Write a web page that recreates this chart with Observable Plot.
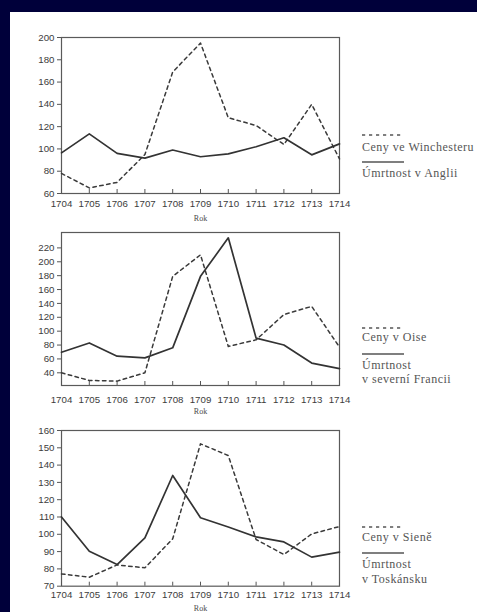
<!DOCTYPE html>
<html><head><meta charset="utf-8">
<script src="https://cdn.jsdelivr.net/npm/d3@7"></script>
<script src="https://cdn.jsdelivr.net/npm/@observablehq/plot@0.6"></script>
<style>
html,body{margin:0;padding:0;width:477px;height:612px;overflow:hidden;background:#00003a;}
#page{position:absolute;left:10px;top:12px;width:467px;height:600px;background:#fff;}
.chart{position:absolute;left:0;}
.chart svg{overflow:visible;}
.lg{position:absolute;left:362px;font-family:"Liberation Serif","DejaVu Serif",serif;font-size:12px;letter-spacing:0.5px;color:#555;line-height:14px;white-space:nowrap;}
.sample{position:absolute;left:362px;}
</style></head><body>
<div id="page"></div>
<div id="root"></div>
<script>
// ---- data ----
const years = [1704, 1705, 1706, 1707, 1708, 1709, 1710, 1711, 1712, 1713, 1714];

// Chart 1: England
const winchesterPrices = [78, 65, 70, 95, 169, 195, 128, 121, 104, 140, 91];
const englandMortality = [96.5, 113.5, 96, 91.7, 99, 93, 95.6, 102, 110, 94.7, 104.5];
const yTicks1 = [60, 80, 100, 120, 140, 160, 180, 200];

// Chart 2: Northern France
const oisePrices = [40, 29, 28, 40, 179, 210, 78, 87.5, 124, 135.7, 77];
const franceMortality = [69.6, 83, 64, 61.5, 76, 179, 234.5, 90, 80, 54, 46];
const yTicks2 = [40, 60, 80, 100, 120, 140, 160, 180, 200, 220];

// Chart 3: Tuscany
const sienaPrices = [77.1, 75.2, 82.3, 80.6, 97.4, 152.3, 145.5, 97, 88.3, 100.2, 104.5];
const tuscanyMortality = [110, 90.2, 82.5, 97.9, 134, 109.6, 104.2, 98.5, 95.6, 86.8, 89.7];
const yTicks3 = [70, 80, 90, 100, 110, 120, 130, 140, 150, 160];

const legend1 = ["Ceny ve Winchesteru", ["Úmrtnost v Anglii"]];
const legend2 = ["Ceny v Oise", ["Úmrtnost", "v severní Francii"]];
const legend3 = ["Ceny v Sieně", ["Úmrtnost", "v Toskánsku"]];
const axisLabel = "Rok";

// ---- drawing ----
const root = document.getElementById("root");
const MT = 8, MB = 34;

function makeChart(cfg) {
  const innerH = cfg.frameBottom - cfg.frameTop;
  const priceRows = years.map((year, i) => ({year, value: cfg.prices[i]}));
  const mortRows = years.map((year, i) => ({year, value: cfg.mortality[i]}));
  const chart = Plot.plot({
    width: 477,
    height: MT + innerH + MB,
    marginLeft: 61,
    marginRight: 138,
    marginTop: MT,
    marginBottom: MB,
    x: {domain: [1704, 1714]},
    y: {domain: cfg.yDomain},
    style: {background: "transparent", fontFamily: "'Liberation Sans', Arial, sans-serif", fontSize: "9.7px", color: "#3c3c3c"},
    marks: [
      Plot.frame({stroke: "#5a5a5a", strokeWidth: 1.2}),
      Plot.axisY({ticks: cfg.yTicks, tickSize: 4, tickPadding: 3, tickFormat: "d", label: null, stroke: "#555"}),
      Plot.axisX({ticks: years, tickSize: 0, tickPadding: cfg.tickPad, tickFormat: "d", label: null}),
      Plot.ruleX(years, {x: d => d, insetTop: innerH - 4, stroke: "#555", strokeWidth: 1}),
      Plot.line(priceRows, {x: "year", y: "value", stroke: "#3a3a3a", strokeWidth: 1.5, strokeDasharray: "3.5,3.5"}),
      Plot.line(mortRows, {x: "year", y: "value", stroke: "#333", strokeWidth: 1.7}),
      Plot.text([axisLabel], {text: d => d, frameAnchor: "bottom", dy: cfg.rokDy, fontFamily: "'Liberation Serif', serif", fontSize: 8, fill: "#4a4a4a", stroke: "none"})
    ]
  });
  const wrap = document.createElement("div");
  wrap.className = "chart";
  wrap.style.top = (cfg.frameTop - MT) + "px";
  wrap.appendChild(chart);
  root.appendChild(wrap);

  // legend
  const [priceLabel, mortLines] = cfg.legend;
  const addSample = (y, dash) => {
    const s = document.createElementNS("http://www.w3.org/2000/svg", "svg");
    s.setAttribute("class", "sample");
    s.setAttribute("width", "42"); s.setAttribute("height", "4");
    s.style.top = (y - 2) + "px";
    s.innerHTML = `<line x1="0" x2="42" y1="2" y2="2" stroke="#555" stroke-width="1.4" ${dash ? 'stroke-dasharray="3.2,3.8"' : ''}/>`;
    root.appendChild(s);
  };
  const addText = (y, t) => {
    const d = document.createElement("div");
    d.className = "lg";
    d.style.top = (y - 7) + "px";
    d.textContent = t;
    root.appendChild(d);
  };
  const L = cfg.legendY;
  addSample(L[0], true);
  addText(L[1], priceLabel);
  addSample(L[2], false);
  mortLines.forEach((t, i) => addText(L[3] + i * 14.5, t));
}

makeChart({prices: winchesterPrices, mortality: englandMortality, yDomain: [60, 200], yTicks: yTicks1,
  frameTop: 37, frameBottom: 193, tickPad: 6.5, rokDy: 27, legend: legend1, legendY: [135, 147, 162, 173]});
makeChart({prices: oisePrices, mortality: franceMortality, yDomain: [21.7, 242.2], yTicks: yTicks2,
  frameTop: 232, frameBottom: 385, tickPad: 10.5, rokDy: 28, legend: legend2, legendY: [327.7, 337, 354, 364.7]});
makeChart({prices: sienaPrices, mortality: tuscanyMortality, yDomain: [70, 160], yTicks: yTicks3,
  frameTop: 430, frameBottom: 585.7, tickPad: 4.5, rokDy: 25, legend: legend3, legendY: [526.7, 537, 553, 564]});
</script>
</body></html>
